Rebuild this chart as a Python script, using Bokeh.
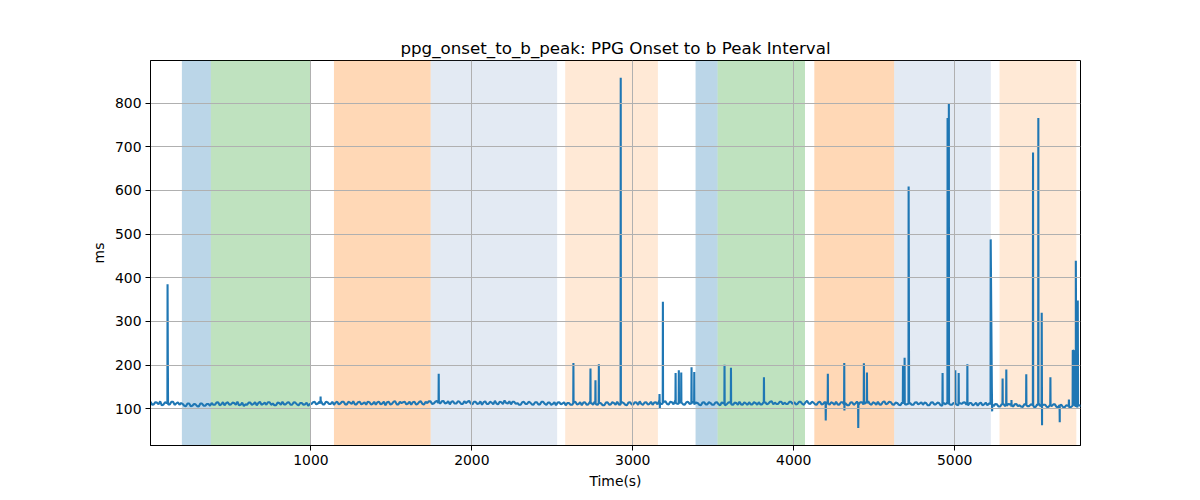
from bokeh.plotting import figure
from bokeh.models import Range1d, SingleIntervalTicker, BoxAnnotation, ColumnDataSource
from bokeh.embed import file_html
from bokeh.resources import INLINE

# ---- data ----
title_text = "ppg_onset_to_b_peak: PPG Onset to b Peak Interval"
x_label = "Time(s)"
y_label = "ms"

# baseline samples every 20 s starting at t=3
base_t = list(range(3, 5784, 20))
base_v = [
    116, 110, 114, 117, 109, 113, 110, 116, 112, 109,
    111, 106, 112, 107, 110, 105, 112, 107, 111, 113,
    109, 115, 110, 108, 115, 110, 113, 116, 109, 106,
    109, 114, 111, 108, 116, 111, 109, 115, 112, 108,
    113, 116, 110, 115, 109, 114, 108, 113, 110, 107,
    111, 116, 112, 117, 110, 115, 111, 109, 116, 112,
    116, 110, 114, 117, 110, 116, 112, 109, 115, 111,
    109, 116, 112, 108, 116, 111, 117, 110, 113, 116,
    112, 109, 116, 111, 117, 110, 113, 117, 112, 118,
    112, 118, 113, 110, 117, 112, 116, 111, 113, 118,
    110, 116, 112, 109, 117, 111, 114, 118, 110, 115,
    119, 112, 110, 116, 113, 109, 116, 111, 114, 109,
    115, 110, 116, 109, 114, 111, 108, 115, 112, 108,
    113, 109, 116, 111, 108, 115, 110, 113, 116, 109,
    112, 108, 115, 110, 113, 116, 109, 113, 108, 115,
    110, 114, 117, 109, 115, 111, 109, 115, 117, 111,
    117, 110, 115, 118, 111, 114, 109, 116, 112, 109,
    113, 108, 115, 110, 113, 109, 115, 108, 112, 110,
    115, 109, 113, 116, 109, 112, 115, 110, 113, 115,
    110, 115, 112, 117, 114, 111, 116, 114, 111, 116,
    115, 111, 116, 109, 118, 111, 114, 109, 116, 111,
    115, 109, 113, 116, 109, 115, 112, 108, 115, 112,
    109, 115, 112, 117, 109, 113, 116, 109, 117, 112,
    115, 109, 113, 108, 115, 110, 113, 109, 115, 112,
    109, 113, 108, 115, 110, 113, 107, 110, 115, 109,
    113, 108, 111, 115, 108, 113, 110, 107, 114, 110,
    108, 113, 106, 110, 105, 111, 107, 110, 105, 111,
    108, 104, 111, 106, 109, 104, 111, 106, 109, 104,
    106, 110, 104, 109, 103, 107, 104, 109, 103, 107,
]

# intermediate baseline samples, every 20 s starting at t=13
base2_t = list(range(13, 5794, 20))
base2_v = [
    109, 115, 110, 108, 115, 110, 116, 109, 115, 113,
    107, 112, 106, 111, 106, 112, 107, 111, 107, 109,
    114, 108, 115, 113, 109, 114, 109, 108, 114, 110,
    114, 109, 115, 113, 109, 114, 115, 109, 108, 114,
    109, 110, 114, 109, 115, 110, 113, 109, 114, 111,
    115, 110, 116, 110, 116, 111, 116, 114, 110, 116,
    110, 116, 111, 110, 115, 110, 115, 116, 110, 116,
    115, 110, 116, 115, 110, 116, 110, 116, 115, 110,
    116, 115, 110, 116, 111, 116, 117, 111, 116, 113,
    117, 112, 117, 116, 112, 117, 111, 117, 116, 112,
    116, 111, 117, 115, 111, 116, 110, 112, 116, 111,
    113, 117, 116, 111, 109, 115, 111, 116, 110, 115,
    110, 116, 111, 114, 109, 115, 114, 110, 115, 113,
    109, 115, 110, 115, 114, 109, 115, 109, 110, 114,
    108, 114, 109, 115, 109, 110, 115, 109, 114, 110,
    115, 109, 111, 114, 110, 116, 114, 110, 111, 116,
    111, 116, 110, 112, 116, 110, 115, 111, 116, 114,
    109, 114, 110, 115, 109, 114, 110, 115, 108, 114,
    110, 114, 109, 110, 115, 109, 110, 115, 109, 110,
    115, 110, 116, 110, 111, 116, 110, 111, 116, 111,
    110, 116, 111, 115, 112, 116, 110, 115, 110, 116,
    110, 115, 109, 110, 115, 110, 108, 114, 109, 116,
    115, 110, 116, 111, 115, 109, 110, 115, 110, 116,
    110, 114, 109, 114, 110, 114, 109, 114, 110, 115,
    114, 108, 114, 110, 114, 108, 113, 114, 109, 113,
    109, 113, 114, 109, 113, 108, 114, 112, 108, 114,
    112, 107, 111, 105, 111, 106, 111, 105, 110, 106,
    105, 110, 106, 110, 104, 110, 106, 109, 104, 109,
    110, 104, 108, 104, 108, 103, 108, 104, 108, 103,
]

# spikes / dips (with their foot samples)
spike_t = [
    108, 109, 111, 112,
    1059, 1060, 1061,
    1793, 1794, 1795,
    2630, 2631, 2632,
    2736, 2737, 2738,
    2767, 2768, 2769,
    2788, 2789, 2790,
    2924, 2925, 2926,
    3165, 3166, 3168, 3169,
    3186, 3187, 3188,
    3265, 3266, 3267,
    3285, 3286, 3287,
    3300, 3301, 3302,
    3364, 3365, 3366,
    3381, 3382, 3384,
    3569, 3570, 3571,
    3609, 3610, 3611,
    3814, 3815, 3816,
    4198, 4199, 4200,
    4211, 4212, 4214,
    4313, 4314, 4315, 4316,
    4400, 4401, 4402,
    4435, 4436, 4437,
    4454, 4455, 4456,
    4678, 4679, 4680,
    4688, 4689, 4690,
    4713, 4714, 4716, 4717,
    4924, 4925, 4926,
    4955, 4956, 4957,
    4963, 4964, 4965,
    5003, 5004, 5005,
    5024, 5025, 5026,
    5078, 5079, 5080,
    5223, 5224, 5231, 5233, 5234,
    5297, 5298, 5299,
    5320, 5321, 5322,
    5352, 5353, 5354,
    5444, 5445, 5446,
    5486, 5487, 5488,
    5519, 5520, 5521,
    5540, 5541, 5543, 5544,
    5594, 5595, 5596,
    5652, 5653, 5654,
    5709, 5710, 5711,
    5733, 5734, 5742, 5744,
    5752, 5753, 5756,
    5764, 5765, 5767,
]
spike_v = [
    113, 385, 193, 112,
    112, 128, 112,
    115, 180, 116,
    113, 205, 112,
    113, 192, 112,
    113, 165, 112,
    113, 202, 112,
    112, 858, 113,
    114, 134, 100, 113,
    114, 345, 114,
    113, 182, 113,
    114, 188, 113,
    114, 183, 114,
    114, 195, 113,
    113, 184, 113,
    113, 201, 112,
    113, 194, 113,
    113, 172, 114,
    113, 73, 112,
    113, 180, 113,
    113, 205, 96, 113,
    113, 56, 113,
    113, 204, 113,
    113, 183, 113,
    112, 199, 112,
    112, 217, 112,
    112, 609, 268, 112,
    112, 182, 112,
    112, 766, 112,
    112, 800, 112,
    112, 188, 112,
    112, 182, 112,
    112, 202, 112,
    111, 488, 150, 94, 110,
    109, 169, 109,
    109, 190, 109,
    109, 120, 109,
    108, 179, 108,
    108, 687, 108,
    108, 766, 108,
    108, 320, 62, 108,
    108, 172, 108,
    108, 69, 108,
    108, 121, 107,
    107, 234, 232, 108,
    108, 439, 110,
    108, 348, 108,
]

# shaded phases: (start, end, colour, alpha)
span_start = [198, 378, 1143, 1744, 2580, 3390, 3527, 4128, 4624, 5279]
span_end = [378, 996, 1744, 2530, 3156, 3527, 4070, 4624, 5225, 5756]
span_color = ["#1f77b4", "#2ca02c", "#ff7f0e", "#b0c4de", "#ff7f0e",
              "#1f77b4", "#2ca02c", "#ff7f0e", "#b0c4de", "#ff7f0e"]
span_alpha = [0.3, 0.3, 0.3, 0.35, 0.17, 0.3, 0.3, 0.3, 0.35, 0.17]

x_min, x_max = 3, 5782
y_min, y_max = 15.8, 897.8

# ---- build series ----
pts = sorted(zip(base_t + base2_t + spike_t, base_v + base2_v + spike_v))
src = ColumnDataSource(dict(t=[a for a, _ in pts], v=[b for _, b in pts]))

FONT = "DejaVu Sans"

p = figure(width=1200, height=500,
           x_range=Range1d(x_min, x_max), y_range=Range1d(y_min, y_max),
           output_backend="svg", toolbar_location=None,
           min_border_left=150, min_border_right=120,
           min_border_top=60, min_border_bottom=55)

p.title.text = title_text
p.title.align = "center"
p.title.text_font = FONT
p.title.text_font_size = "16.7px"
p.title.text_font_style = "normal"
p.title.text_color = "black"
p.title.standoff = 6

for s, e, c, a in zip(span_start, span_end, span_color, span_alpha):
    p.add_layout(BoxAnnotation(left=s, right=e, fill_color=c, fill_alpha=a,
                               line_color=None, level="underlay"))

p.line("t", "v", source=src, line_color="#1f77b4", line_width=2.1)

p.xaxis.ticker = SingleIntervalTicker(interval=1000)
p.yaxis.ticker = SingleIntervalTicker(interval=100)
p.xaxis.axis_label = x_label
p.yaxis.axis_label = y_label

for ax in (p.xaxis, p.yaxis):
    ax.axis_label_text_font = FONT
    ax.axis_label_text_font_size = "13.9px"
    ax.axis_label_text_font_style = "normal"
    ax.axis_label_text_color = "black"
    ax.major_label_text_font = FONT
    ax.major_label_text_font_size = "13.9px"
    ax.major_label_text_color = "black"
    ax.major_tick_out = 5
    ax.major_tick_in = 0
    ax.minor_tick_line_color = None
    ax.major_tick_line_color = "black"
    ax.axis_line_color = "black"
    ax.major_label_standoff = 4
    ax.axis_label_standoff = 5

p.grid.grid_line_color = "#b0b0b0"
p.grid.grid_line_width = 1
p.grid.level = "glyph"
p.outline_line_color = "black"
p.outline_line_alpha = 1
p.outline_line_width = 1
p.background_fill_color = "white"
p.border_fill_color = "white"

open("out.html", "w").write(file_html(p, INLINE))
